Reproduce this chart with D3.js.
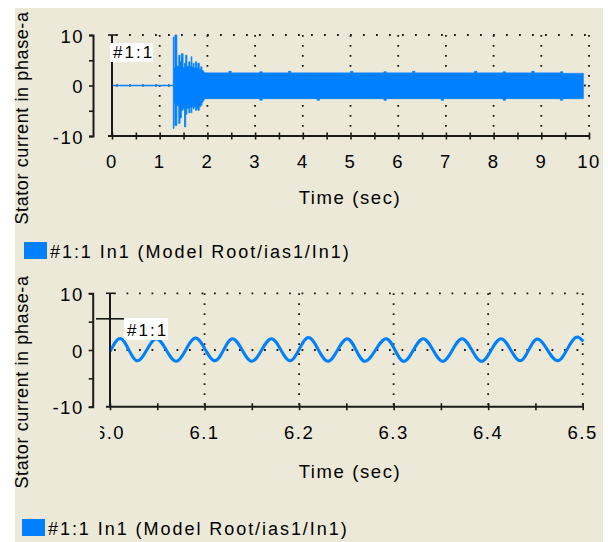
<!DOCTYPE html>
<html>
<head>
<meta charset="utf-8">
<script src="https://cdn.jsdelivr.net/npm/d3@7"></script>
<style>
  body { margin: 0; background: #fff; }
  text { font-family: "Liberation Sans", Arial, sans-serif; fill: #000; }
</style>
</head>
<body>
<div id="chart"></div>
<script>
const width = 608;
const height = 542;

// top panel: whole run 0..10 s, envelope of the 50 Hz current
const topTickLabels = ["0", "1", "2", "3", "4", "5", "6", "7", "8", "9", "10"];
const topFlatT = [0, 1.285];
const topFlatV = [0, 0];
const topEnvT  = [1.285, 1.30, 1.32, 1.36, 1.40, 1.425, 1.455, 1.49, 1.52, 1.545, 1.57, 1.61, 1.635, 1.66, 1.675, 1.70, 1.72, 1.75, 1.775, 1.80, 1.83, 1.86, 1.885, 1.91, 1.935, 1.97,
                  2.45, 2.50, 3.10, 3.15, 3.70, 3.75, 4.30, 4.35, 5.00, 5.05, 5.70, 5.75, 6.30, 6.35, 6.90, 6.95, 7.60, 7.65, 8.20, 8.25, 8.80, 8.85, 9.40, 9.45, 9.88];
const topEnvHi = [9.6, 3.5, 10, 3.8, 6.0, 4.7, 6.3, 3.5, 4.4, 6.0, 3.8, 4.7, 3.8, 5.7, 3.6, 4.4, 3.5, 4.7, 3.4, 4.4, 3.2, 3.7, 3.0, 2.7, 2.5, 2.5,
                  2.8, 2.5, 2.7, 2.5, 2.8, 2.5, 2.5, 2.5, 2.8, 2.5, 2.7, 2.5, 2.8, 2.5, 2.5, 2.5, 2.8, 2.5, 2.7, 2.5, 2.8, 2.5, 2.7, 2.4, 2.4];
const topEnvLo = [-8.5, -3.5, -7.9, -4.0, -7.5, -6.4, -4.9, -4.5, -8.2, -5.7, -4.5, -5.4, -4.3, -5.4, -4.2, -4.6, -4.2, -4.9, -4.5, -4.9, -4.2, -3.9, -3.3, -2.9, -2.6, -2.6,
                  -2.6, -2.6, -2.9, -2.6, -2.6, -2.6, -2.9, -2.6, -2.6, -2.6, -2.9, -2.6, -2.6, -2.6, -2.9, -2.6, -2.6, -2.6, -2.9, -2.6, -2.6, -2.6, -2.9, -2.6, -2.6];

// bottom panel: zoom 6.0..6.5 s, peaks and troughs of the wave
const botTickLabels = ["6.0", "6.1", "6.2", "6.3", "6.4", "6.5"];
const botT = [6.000, 6.0106, 6.029, 6.049, 6.070, 6.0905, 6.111, 6.1296, 6.150, 6.1708, 6.1905, 6.2099, 6.2305, 6.251, 6.2695, 6.2922, 6.3107, 6.3313, 6.352, 6.3724, 6.393, 6.4136, 6.4339, 6.452, 6.4734, 6.4943, 6.5006];
const botV = [-0.3, 2.05, -1.9, 2.0, -2.0, 2.1, -1.9, 2.0, -2.0, 2.0, -1.9, 2.2, -2.0, 2.0, -2.0, 2.0, -2.0, 2.0, -2.0, 2.0, -2.0, 2.0, -1.9, 1.95, -1.9, 2.3, 1.5];

const yTickValues = [-10, -5, 0, 5, 10];
const yTickLabels = { "-10": "-10", "0": "0", "10": "10" };
const legendText = "#1:1 In1 (Model Root/ias1/In1)";
const yTitle = "Stator current in phase-a";
const xTitle = "Time (sec)";
const blue = "#0080ff";

const svg = d3.select("#chart").append("svg")
  .attr("width", width)
  .attr("height", height);

svg.append("rect")
  .attr("x", 15).attr("y", 8)
  .attr("width", 588).attr("height", 534)
  .attr("fill", "#ece9d8");

function drawPanel(p) {
  const x = d3.scaleLinear().domain(p.xDomain).range(p.xRange);
  const y = d3.scaleLinear().domain([-10, 10]).range(p.yRange);
  const g = svg.append("g");

  // dotted grid
  g.selectAll(".hgrid").data([10, 0]).join("line")
    .attr("x1", x(p.xDomain[0]) + 4).attr("x2", x(p.xDomain[1]))
    .attr("y1", d => y(d)).attr("y2", d => y(d))
    .attr("stroke", "#1a1a1a").attr("stroke-width", 1.8)
    .attr("stroke-dasharray", p.hDash);
  g.selectAll(".vgrid").data(p.gridX).join("line")
    .attr("x1", d => x(d)).attr("x2", d => x(d))
    .attr("y1", y(10)).attr("y2", y(-10))
    .attr("stroke", "#1a1a1a").attr("stroke-width", 1.8)
    .attr("stroke-dasharray", "1.8,8.2");

  // data
  p.drawData(g, x, y);

  // y axis (separate bracket to the left)
  const yAxis = d3.axisLeft(y)
    .tickValues(yTickValues)
    .tickSize(4)
    .tickPadding(5)
    .tickFormat(d => yTickLabels[d] || "");
  const yg = g.append("g")
    .attr("transform", `translate(${p.yAxisX},0)`)
    .call(yAxis);
  yg.select(".domain").attr("stroke", "#1a1a1a").attr("stroke-width", 2);
  yg.selectAll(".tick line").attr("stroke", "#1a1a1a").attr("stroke-width", 1.6);
  yg.selectAll(".tick text").attr("font-size", 18.5).attr("font-family", null)
    .attr("letter-spacing", 1.5).attr("dy", "0.38em");

  // x axis with ticks crossing the line
  const xAxis = d3.axisBottom(x)
    .tickValues(p.tickX)
    .tickSize(3)
    .tickFormat("");
  const xg = g.append("g")
    .attr("transform", `translate(0,${y(-10)})`)
    .call(xAxis);
  xg.select(".domain").remove();
  xg.append("line")
    .attr("x1", x(p.xDomain[0]) - 4).attr("x2", x(p.xDomain[1]) + 1)
    .attr("stroke", "#1a1a1a").attr("stroke-width", 2);
  xg.selectAll(".tick line").attr("y1", -3.5).attr("y2", 3.5)
    .attr("stroke", "#1a1a1a").attr("stroke-width", 1.6);

  const labelG = g.append("g");
  if (p.clipLeft) {
    svg.append("clipPath").attr("id", p.id + "clip")
      .append("rect").attr("x", p.clipLeft).attr("y", 0).attr("width", width).attr("height", height);
    labelG.attr("clip-path", `url(#${p.id}clip)`);
  }
  labelG.selectAll("text").data(p.tickLabels).join("text")
    .attr("x", d => x(+d))
    .attr("y", y(-10) + 32)
    .attr("text-anchor", "middle")
    .attr("font-size", 18.5)
    .attr("letter-spacing", 1.5)
    .text(d => d);

  g.append("text")
    .attr("x", 350).attr("y", y(-10) + p.xTitleOff)
    .attr("text-anchor", "middle")
    .attr("font-size", 18.5)
    .attr("letter-spacing", 1.6)
    .text(xTitle);

  g.append("text")
    .attr("transform", `translate(28,${p.yTitleY})rotate(-90)`)
    .attr("text-anchor", "middle")
    .attr("font-size", 18)
    .attr("letter-spacing", 0.6)
    .text(yTitle);

  // cursor #1:1
  const cx = x(p.xDomain[0]);
  g.append("line")
    .attr("x1", cx).attr("x2", cx).attr("y1", y(10)).attr("y2", y(-10))
    .attr("stroke", "#1a1a1a").attr("stroke-width", 2);
  g.append("line")
    .attr("x1", cx - 4).attr("x2", cx + 4).attr("y1", y(10)).attr("y2", y(10))
    .attr("stroke", "#1a1a1a").attr("stroke-width", 1.6);
  if (p.crossV !== undefined) {
    g.append("line")
      .attr("x1", cx - 14).attr("x2", p.box[0]).attr("y1", y(p.crossV)).attr("y2", y(p.crossV))
      .attr("stroke", "#1a1a1a").attr("stroke-width", 1.6);
  }
  g.append("rect")
    .attr("x", p.box[0]).attr("y", p.box[1])
    .attr("width", p.box[2]).attr("height", p.box[3])
    .attr("fill", "#fff");
  g.append("text")
    .attr("x", p.box[0] + 3).attr("y", p.box[1] + p.box[3] - 4.5)
    .attr("font-size", 17)
    .attr("letter-spacing", 2)
    .text("#1:1");

  // legend
  g.append("rect")
    .attr("x", p.legend[0]).attr("y", p.legend[1])
    .attr("width", 23).attr("height", 17)
    .attr("fill", blue);
  g.append("text")
    .attr("x", p.legend[0] + 26).attr("y", p.legend[1] + 16)
    .attr("font-size", 18)
    .attr("letter-spacing", 1.95)
    .text(legendText);
}

drawPanel({
  id: "top",
  xDomain: [0, 10], xRange: [112, 589], yRange: [136, 35],
  yAxisX: 93,
  tickX: d3.range(0, 10.01, 0.5),
  gridX: [1, 2, 3, 4, 5, 6, 7, 8, 9, 10],
  tickLabels: topTickLabels,
  hDash: "1.8,11.2",
  xTitleOff: 68,
  yTitleY: 118,
  box: [110, 43, 43, 19],
  legend: [24, 242],
  drawData: (g, x, y) => {
    const flat = topFlatT.map((t, i) => ({ t, v: topFlatV[i] }));
    g.append("path").datum(flat)
      .attr("d", d3.line().x(d => x(d.t)).y(d => y(d.v)))
      .attr("stroke", blue).attr("stroke-width", 1.6).attr("fill", "none");
    const env = topEnvT.map((t, i) => ({ t, hi: topEnvHi[i], lo: topEnvLo[i] }));
    g.append("path").datum(env)
      .attr("d", d3.area().curve(d3.curveStepAfter)
        .x(d => x(d.t)).y0(d => y(d.lo)).y1(d => y(d.hi)))
      .attr("fill", blue).attr("stroke", blue).attr("stroke-width", 0.8);
  }
});

drawPanel({
  id: "bot",
  xDomain: [6.0, 6.5], xRange: [110, 582.7], yRange: [406.7, 293.3],
  yAxisX: 92.7,
  tickX: d3.range(6.0, 6.5001, 0.05),
  gridX: [6.1, 6.2, 6.3, 6.4, 6.5],
  tickLabels: botTickLabels,
  clipLeft: 100,
  hDash: "1.8,10.7",
  xTitleOff: 71,
  yTitleY: 382,
  box: [124, 318, 44, 22],
  crossV: 5.5,
  legend: [22, 519],
  drawData: (g, x, y) => {
    const wave = botT.map((t, i) => ({ t, v: botV[i] }));
    g.append("path").datum(wave)
      .attr("d", d3.line().curve(d3.curveMonotoneX).x(d => x(d.t)).y(d => y(d.v)))
      .attr("stroke", blue).attr("stroke-width", 3).attr("fill", "none");
  }
});
</script>
</body>
</html>
